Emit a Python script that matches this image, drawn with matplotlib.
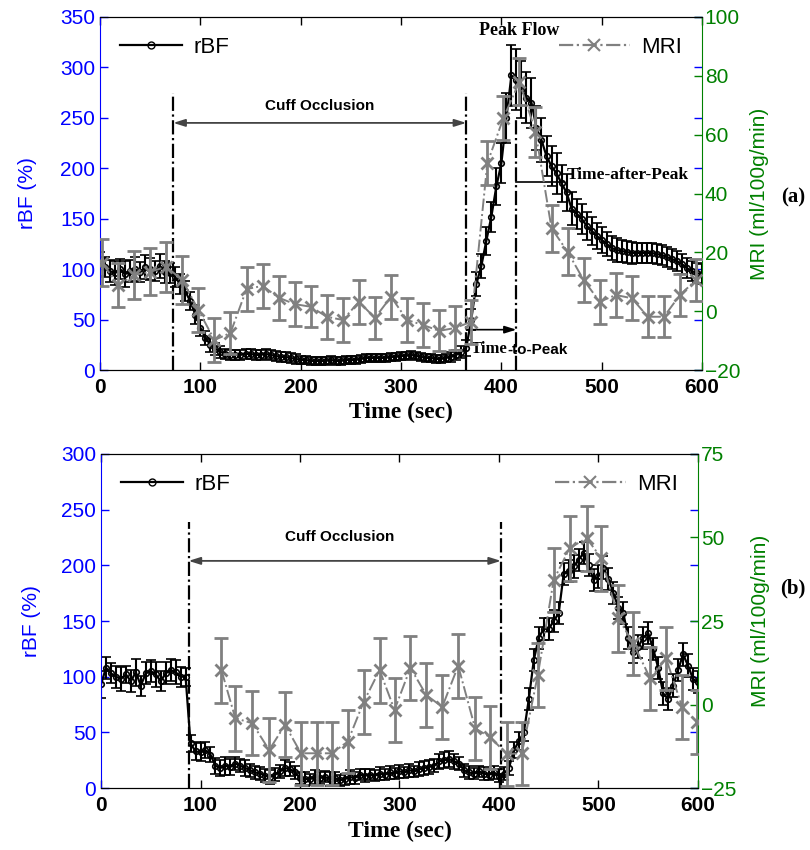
import matplotlib
matplotlib.use("Agg")
import matplotlib.pyplot as plt
from matplotlib.lines import Line2D

# ---------------- data: panel (a) ----------------
t_rbf_a = list(range(0, 601, 5))
rbf_a = [105, 102, 98, 96, 100, 95, 98, 100, 97, 102,
         100, 98, 103, 97, 96, 92, 85, 78, 68, 55,
         42, 32, 25, 21, 18, 16, 15, 15, 15, 16,
         16, 15, 15, 16, 15, 14, 13, 13, 12, 11,
         10, 10, 9, 9, 9, 9, 10, 9, 9, 10,
         10, 10, 11, 12, 12, 12, 12, 12, 13, 13,
         14, 14, 15, 14, 13, 12, 12, 11, 11, 12,
         13, 15, 18, 22, 50, 85, 103, 128, 152, 182,
         205, 250, 292, 288, 278, 270, 265, 240, 228, 212,
         202, 195, 185, 176, 160, 155, 150, 143, 138, 133,
         129, 125, 121, 119, 118, 117, 116, 116, 116, 116,
         116, 115, 114, 112, 110, 108, 105, 101, 98, 96,
         95]
rbf_err_a = [12, 10, 11, 12, 10, 13, 11, 12, 10, 12,
             11, 10, 12, 11, 10, 10, 10, 10, 9, 9,
             8, 7, 7, 6, 6, 5, 5, 5, 5, 5,
             5, 5, 5, 5, 5, 5, 5, 5, 5, 5,
             4, 4, 4, 4, 4, 4, 4, 4, 4, 4,
             4, 4, 4, 4, 4, 4, 4, 4, 4, 4,
             4, 4, 4, 4, 4, 4, 4, 4, 4, 4,
             5, 5, 6, 8, 10, 12, 12, 14, 15, 18,
             20, 25, 30, 30, 28, 25, 25, 22, 22, 20,
             20, 20, 18, 18, 16, 15, 15, 14, 14, 13,
             13, 12, 12, 12, 11, 11, 11, 10, 10, 10,
             10, 10, 10, 10, 10, 10, 10, 10, 10, 10,
             10]
t_mri_a = [2, 18, 34, 50, 66, 82, 98, 114, 130, 146, 162, 178, 194, 210,
           226, 242, 258, 274, 290, 306, 322, 338, 354, 370, 386, 402, 418,
           434, 450, 466, 482, 498, 514, 530, 546, 562, 578, 594]
mri_a = [16.4, 8.9, 12.3, 13.4, 15.1, 10.6, 0.4, -9.8, -7.4, 7.5, 8.6, 4.6,
         2.4, 1.5, -1.9, -3.0, 3.2, -2.3, 4.9, -3.0, -4.7, -6.7, -5.7, -3.6,
         50.3, 65.6, 78.0, 61.0, 28.2, 20.2, 10.6, 3.2, 5.5, 4.4, -1.9, -1.9,
         5.5, 10.6]
mri_err_a = [8, 7.5, 8, 8, 8.5, 8, 7.5, 7.5, 7, 7.5, 7.5, 7.5, 7.5, 7, 7.5,
             7.5, 7.5, 7, 7.5, 7.5, 7.5, 7, 7.5, 7.5, 7.5, 7.5, 8, 8.5, 8, 8,
             7.5, 7.5, 7.5, 7.5, 7, 7, 7, 7]

# ---------------- data: panel (b) ----------------
t_rbf_b = list(range(0, 601, 5))
rbf_b = [93, 108, 103, 100, 98, 102, 96, 104, 92, 103,
         105, 102, 96, 103, 106, 104, 100, 100, 40, 33,
         32, 34, 30, 20, 18, 20, 19, 22, 20, 18,
         16, 14, 13, 11, 10, 12, 15, 18, 17, 14,
         9, 8, 8, 10, 9, 10, 8, 9, 7, 8,
         10, 9, 12, 11, 12, 11, 13, 12, 14, 13,
         15, 14, 16, 15, 17, 18, 19, 20, 24, 25,
         26, 24, 22, 16, 14, 13, 15, 13, 12, 14,
         11, 13, 18, 34, 42, 50, 80, 115, 135, 143,
         143, 150, 157, 192, 195, 199, 205, 211, 200, 187,
         190, 198, 188, 175, 162, 157, 135, 122, 127, 135,
         139, 125, 108, 85, 80, 92, 106, 120, 110, 98,
         95]
rbf_err_b = [12, 10, 9, 10, 11, 8, 10, 12, 9, 10,
             10, 11, 9, 10, 10, 11, 9, 8, 8, 8,
             8, 7, 7, 7, 7, 8, 7, 6, 6, 7,
             6, 6, 6, 6, 6, 6, 6, 7, 6, 6,
             5, 6, 5, 6, 5, 5, 6, 5, 5, 5,
             6, 5, 5, 6, 5, 5, 6, 5, 6, 5,
             6, 5, 6, 5, 6, 6, 6, 6, 7, 7,
             7, 7, 6, 6, 6, 5, 5, 6, 5, 6,
             6, 6, 6, 7, 8, 8, 10, 10, 10, 10,
             10, 10, 10, 10, 10, 10, 10, 10, 10, 10,
             10, 10, 10, 10, 10, 10, 10, 10, 10, 10,
             10, 10, 10, 10, 10, 10, 10, 10, 10, 10,
             10]
t_mri_b = [121, 135, 152, 169, 185, 201, 217, 232, 248, 264, 280, 295, 311,
           327, 343, 359, 376, 391, 408, 423, 439, 455, 471, 488, 503, 520,
           535, 552, 568, 584, 599]
mri_b = [10.3, -4.1, -5.6, -13.6, -6.1, -14.6, -14.6, -14.6, -11.1, 0.8,
         10.3, -1.6, 11.0, 2.8, -0.7, 11.6, -7.1, -9.8, -14.8, -14.6, 8.8,
         37.3, 46.8, 49.8, 43.8, 25.8, 18.3, 7.8, 13.8, -0.7, -5.2]
mri_err_b = [9.7, 9.7, 9.5, 9.5, 9.7, 9.5, 9.5, 9.5, 9.5, 9.5, 9.7, 9.5, 9.5,
             9.5, 9.5, 9.5, 9.5, 9.5, 9.5, 9.5, 9.5, 9.7, 9.7, 9.7, 9.7, 10,
             9.5, 9.5, 9.5, 9.5, 9.5]

x_ticks = [0, 100, 200, 300, 400, 500, 600]

BLUE = "#0000FF"
GREEN = "#008000"
GRAY = "#808080"
SANS = "Liberation Sans"
SERIF = "Liberation Serif"

fig = plt.figure(figsize=(8.1, 8.5), dpi=100)


def make_panel(rect, t_r, r, re, t_m, m, me, ylim_l, yticks_l, ylim_r, yticks_r,
               xlab_y, ylab_l, ylab_r):
    ax = fig.add_axes(rect)
    ax.errorbar(t_r, r, yerr=re, fmt='-o', color='k', mfc='none', ms=4,
                mew=1.2, lw=1.6, elinewidth=1.5, capsize=3.5, capthick=1.5,
                zorder=2)
    ax.set_xlim(0, 600)
    ax.set_ylim(*ylim_l)
    ax.set_yticks(yticks_l)
    ax.set_xticks(x_ticks)
    ax2 = ax.twinx()
    ax2.errorbar(t_m, m, yerr=me, fmt='-.x', color=GRAY, ms=9, mew=2,
                 lw=1.4, elinewidth=2, capsize=5, capthick=2, zorder=3)
    ax2.set_ylim(*ylim_r)
    ax2.set_yticks(yticks_r)

    ax.spines['left'].set_color(BLUE)
    ax.spines['right'].set_visible(False)
    ax2.spines['left'].set_visible(False)
    ax2.spines['right'].set_color(GREEN)
    for a in (ax, ax2):
        a.spines['top'].set_color('k')
        a.spines['bottom'].set_color('k')

    ax.tick_params(axis='x', direction='in', top=True, length=6, width=1,
                   labelsize=15, pad=6)
    for lab in ax.get_xticklabels():
        lab.set_fontweight('bold')
        lab.set_fontfamily(SANS)
    ax.tick_params(axis='y', direction='in', left=True, right=True, length=6,
                   width=1, colors=BLUE, labelsize=15)
    for lab in ax.get_yticklabels():
        lab.set_fontfamily(SANS)
    ax2.tick_params(axis='y', direction='in', right=True, length=6, width=1,
                    colors=GREEN, labelsize=15, pad=2)
    for lab in ax2.get_yticklabels():
        lab.set_fontfamily(SANS)

    ax.set_xlabel('Time (sec)', fontsize=17, fontweight='bold', family=SERIF)
    ax.xaxis.set_label_coords(0.5, xlab_y)
    ax.set_ylabel('rBF (%)', color=BLUE, fontsize=15, family=SANS)
    ax.yaxis.set_label_coords(ylab_l, 0.5)
    ax2.set_ylabel('MRI (ml/100g/min)', color=GREEN, fontsize=15, family=SANS)
    ax2.yaxis.set_label_coords(ylab_r, 0.5)

    h1 = Line2D([], [], color='k', lw=1.6, marker='o', mfc='none', ms=5)
    h2 = Line2D([], [], color=GRAY, lw=1.6, ls='-.', marker='x', ms=9, mew=1.5)
    ax.legend([h1], ['rBF'], loc='upper left', frameon=False,
              prop={'family': SANS, 'size': 16}, handlelength=2.8,
              borderaxespad=0.5, handletextpad=0.5)
    ax2.legend([h2], ['MRI'], loc='upper right', frameon=False,
               prop={'family': SANS, 'size': 16}, handlelength=3.2,
               borderaxespad=0.5, handletextpad=0.5)
    return ax, ax2


# ---------------- panel (a) ----------------
axa, axa2 = make_panel([0.1235, 0.5647, 0.7432, 0.4153], t_rbf_a, rbf_a,
                       rbf_err_a, t_mri_a, mri_a, mri_err_a, (0, 350),
                       [0, 50, 100, 150, 200, 250, 300, 350], (-20, 100),
                       [-20, 0, 20, 40, 60, 80, 100], -0.09, -0.105, 1.079)

dd = dict(color='k', ls='-.', lw=1.6, zorder=4)
axa.plot([73, 73], [0, 275], **dd)
axa.plot([365, 365], [0, 275], **dd)
axa.plot([415, 415], [0, 250], **dd)
axa.annotate('', xy=(73, 245), xytext=(365, 245),
             arrowprops=dict(arrowstyle='<|-|>,head_length=0.7,head_width=0.22',
                             color='#444444', lw=1.3, shrinkA=0, shrinkB=0))
axa.text(219, 262, 'Cuff Occlusion', ha='center', va='center', fontsize=11,
         fontweight='bold', family=SANS)
axa.annotate('', xy=(415, 40), xytext=(365, 40),
             arrowprops=dict(arrowstyle='-|>,head_length=0.7,head_width=0.22',
                             color='k', lw=1.2, shrinkA=0, shrinkB=0))
t1 = axa.text(369, 21, 'Time', ha='left', va='center', fontsize=12,
              fontweight='bold', family=SERIF, zorder=6)
axa.annotate('-to-Peak', xy=(1, 0), xycoords=t1, va='bottom', ha='left',
             fontsize=11, fontweight='bold', family=SANS, zorder=6)
axa.plot([415, 462], [186, 186], color='k', lw=1.2, zorder=4)
axa.text(465, 193, 'Time-after-Peak', ha='left', va='center', fontsize=12.5,
         fontweight='bold', family=SERIF, zorder=6)
axa.text(418, 337, 'Peak Flow', ha='center', va='center', fontsize=13,
         fontweight='bold', family=SERIF, zorder=6)

# ---------------- panel (b) ----------------
axb, axb2 = make_panel([0.1247, 0.0729, 0.737, 0.393], t_rbf_b, rbf_b,
                       rbf_err_b, t_mri_b, mri_b, mri_err_b, (0, 300),
                       [0, 50, 100, 150, 200, 250, 300], (-25, 75),
                       [-25, 0, 25, 50, 75], -0.099, -0.1, 1.088)
axb.plot([88, 88], [0, 239], **dd)
axb.plot([402, 402], [0, 239], **dd)
axb.annotate('', xy=(88, 204), xytext=(402, 204),
             arrowprops=dict(arrowstyle='<|-|>,head_length=0.7,head_width=0.22',
                             color='#444444', lw=1.3, shrinkA=0, shrinkB=0))
axb.text(240, 225, 'Cuff Occlusion', ha='center', va='center', fontsize=11,
         fontweight='bold', family=SANS)

fig.text(0.979, 0.768, '(a)', ha='center', va='center', fontsize=15,
         fontweight='bold', family=SERIF)
fig.text(0.979, 0.308, '(b)', ha='center', va='center', fontsize=15,
         fontweight='bold', family=SERIF)

fig.savefig('out.png', dpi=100)
